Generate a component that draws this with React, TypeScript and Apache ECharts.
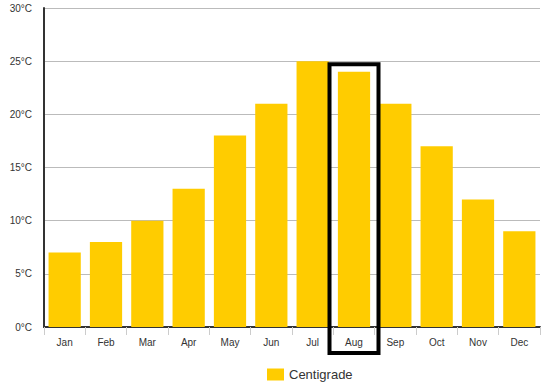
import React, { useEffect, useRef } from "react";
import * as echarts from "echarts";

const months = ["Jan", "Feb", "Mar", "Apr", "May", "Jun", "Jul", "Aug", "Sep", "Oct", "Nov", "Dec"];
const centigrade = [7, 8, 10, 13, 18, 21, 25, 24, 21, 17, 12, 9];
const highlightMonth = "Aug";
const highlightTop = 25;

export default function App() {
  const ref = useRef<HTMLDivElement>(null);
  useEffect(() => {
    document.body.style.margin = "0";
    const chart = echarts.init(ref.current!, null, { renderer: "svg" });
    const font = "Arial, 'Liberation Sans', sans-serif";
    chart.setOption({
      animation: false,
      backgroundColor: "#fff",
      grid: { left: 44, right: 5, top: 8, bottom: 58 },
      legend: {
        top: 363,
        left: 262,
        itemWidth: 17,
        itemHeight: 12,
        itemGap: 5,
        icon: "rect",
        textStyle: { fontFamily: font, fontSize: 13, color: "#333" },
      },
      xAxis: {
        type: "category",
        data: months,
        axisLine: { lineStyle: { color: "#333", width: 2 } },
        axisTick: { show: true, length: 8, lineStyle: { color: "#ccc" } },
        axisLabel: { fontFamily: font, fontSize: 10, color: "#333", margin: 10 },
      },
      yAxis: {
        type: "value",
        min: 0,
        max: 30,
        interval: 5,
        axisLine: { show: true, lineStyle: { color: "#333", width: 2 } },
        axisTick: { show: false },
        axisLabel: { fontFamily: font, fontSize: 10, color: "#333", formatter: "{value}°C", margin: 12 },
        splitLine: { lineStyle: { color: "#bbb" } },
      },
      series: [
        {
          name: "Centigrade",
          type: "bar",
          data: centigrade,
          barCategoryGap: "22%",
          itemStyle: { color: "#FFCC00" },
        },
      ],
    });
    const cx = chart.convertToPixel({ xAxisIndex: 0 }, highlightMonth) as number;
    const ty = chart.convertToPixel({ yAxisIndex: 0 }, highlightTop) as number;
    const by = chart.convertToPixel({ yAxisIndex: 0 }, 0) as number;
    const w = 49;
    chart.setOption({
      graphic: [
        {
          type: "rect",
          shape: { x: cx - w / 2, y: ty + 3, width: w, height: by - ty + 23 },
          style: { fill: "none", stroke: "#000", lineWidth: 4 },
          z: 100,
        },
      ],
    });
    return () => chart.dispose();
  }, []);
  return <div ref={ref} style={{ width: 545, height: 385 }} />;
}
